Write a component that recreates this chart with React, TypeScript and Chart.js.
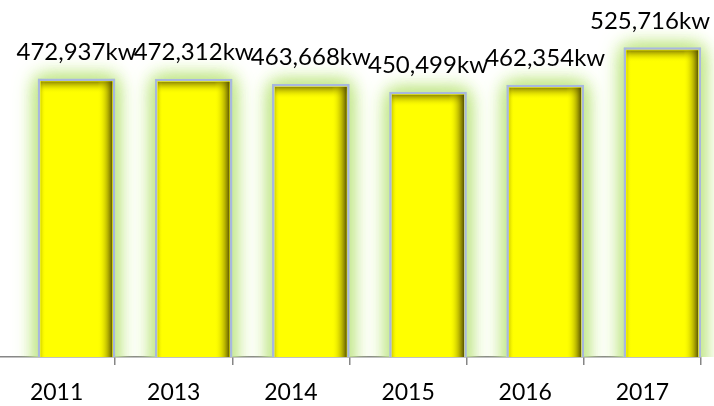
import React, { useEffect, useRef } from "react";
import { Chart, registerables } from "chart.js";

Chart.register(...registerables);

const years = ["2011", "2013", "2014", "2015", "2016", "2017"];
const values = [472937, 472312, 463668, 450499, 462354, 525716];
const unit = "kw";
const yMax = 600000;
const BAR_SHIFT = 0.17;

const FONT = "Lato, 'Open Sans', sans-serif";

const glowPlugin = {
  id: "glow",
  beforeDatasetsDraw(chart: any) {
    const ctx = chart.ctx;
    const meta = chart.getDatasetMeta(0);
    const area = chart.chartArea;
    ctx.save();
    ctx.beginPath();
    ctx.rect(0, 0, chart.width, area.bottom);
    ctx.clip();
    meta.data.forEach((bar: any) => {
      const { x, y, base, width } = bar.getProps(["x", "y", "base", "width"], true);
      for (let k = 0; k < 3; k++) {
        ctx.save();
        ctx.shadowColor = "rgba(196,232,140,1)";
        ctx.shadowBlur = k === 0 ? 26 : 16;
        ctx.fillStyle = "#d4edb4";
        ctx.fillRect(x - width / 2, y, width, base - y + 20);
        ctx.restore();
      }
    });
    ctx.restore();
  },
  afterDatasetsDraw(chart: any) {
    const ctx = chart.ctx;
    const meta = chart.getDatasetMeta(0);
    const area = chart.chartArea;
    meta.data.forEach((bar: any, i: number) => {
      const { x, y, base, width } = bar.getProps(["x", "y", "base", "width"], true);
      const l = x - width / 2 + 2.5;
      const r = x + width / 2 - 2.5;
      const t = y + 2.5;
      const b = Math.min(base, area.bottom);
      ctx.save();
      ctx.beginPath();
      ctx.rect(l, t, r - l, b - t);
      ctx.clip();
      // top inner shadow
      let g = ctx.createLinearGradient(0, t, 0, t + 12);
      g.addColorStop(0, "rgba(110,102,0,0.8)");
      g.addColorStop(0.4, "rgba(150,142,0,0.4)");
      g.addColorStop(1, "rgba(255,255,0,0)");
      ctx.fillStyle = g;
      ctx.fillRect(l, t, r - l, 12);
      // right inner shadow
      g = ctx.createLinearGradient(r, 0, r - 15, 0);
      g.addColorStop(0, "rgba(80,75,0,0.95)");
      g.addColorStop(0.35, "rgba(135,128,0,0.55)");
      g.addColorStop(1, "rgba(255,255,0,0)");
      ctx.fillStyle = g;
      ctx.fillRect(r - 15, t, 15, b - t);
      // left inner shadow
      g = ctx.createLinearGradient(l, 0, l + 5, 0);
      g.addColorStop(0, "rgba(120,112,0,0.3)");
      g.addColorStop(1, "rgba(255,255,0,0)");
      ctx.fillStyle = g;
      ctx.fillRect(l, t, 5, b - t);
      ctx.restore();

      // value label
      ctx.save();
      ctx.font = "24px " + FONT;
      ctx.fillStyle = "#000000";
      ctx.textAlign = "center";
      ctx.textBaseline = "alphabetic";
      const text = values[i].toLocaleString("en-US") + unit;
      const w = ctx.measureText(text).width;
      let cx = x;
      const maxRight = chart.width - 4;
      if (cx + w / 2 > maxRight) cx = maxRight - w / 2;
      ctx.fillText(text, cx, y - 19);
      ctx.restore();
    });
  },
};

export default function App() {
  const ref = useRef<HTMLCanvasElement | null>(null);
  useEffect(() => {
    document.body.style.margin = "0";
    const canvas = ref.current!;
    const chart = new Chart(canvas, {
      type: "bar",
      data: {
        labels: years,
        datasets: [
          {
            data: values.map((v, i) => ({ x: i + BAR_SHIFT, y: v })) as any,
            xAxisID: "xb",
            yAxisID: "y",
            backgroundColor: "#ffff00",
            borderColor: "#a8b8de",
            borderWidth: 2.5,
            barThickness: 77,
            clip: { left: false, right: false, top: false, bottom: 0 } as any,
          },
        ],
      },
      options: {
        responsive: false,
        animation: false,
        devicePixelRatio: 1,
        layout: { padding: { top: 4, right: 13, left: 0, bottom: 0 } },
        plugins: { legend: { display: false }, tooltip: { enabled: false } },
        scales: {
          x: {
            type: "category",
            labels: years,
            offset: true,
            position: "bottom",
            grid: {
              display: true,
              offset: true,
              drawOnChartArea: false,
              drawTicks: true,
              tickLength: 8,
              color: "#868686",
              lineWidth: 1.5,
            },
            border: { display: true, color: "#868686", width: 1.5 },
            ticks: {
              font: { family: FONT, size: 23 },
              color: "#000000",
              padding: 14,
              maxRotation: 0,
              autoSkip: false,
            },
            afterFit: (s: any) => {
              s.height = 49;
            },
          },
          xb: {
            type: "linear",
            display: false,
            offset: false,
            min: -0.5,
            max: 5.5,
          },
          y: {
            display: false,
            min: 0,
            max: yMax,
          },
        },
      },
      plugins: [glowPlugin],
    });
    return () => chart.destroy();
  }, []);
  return (
    <div style={{ width: 714, height: 406, overflow: "hidden" }}>
      <canvas
        ref={ref}
        width={716}
        height={406}
        style={{ display: "block", marginLeft: -2, width: 716, height: 406 }}
      />
    </div>
  );
}
